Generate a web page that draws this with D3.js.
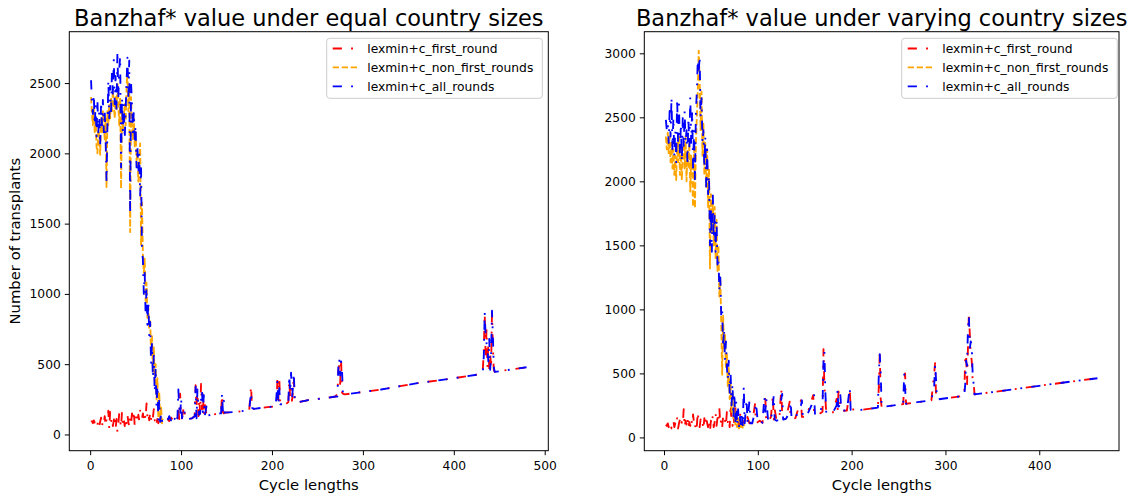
<!DOCTYPE html>
<html><head><meta charset="utf-8">
<script src="https://cdn.jsdelivr.net/npm/d3@7"></script>
<style>
body{margin:0;background:#fff;}
svg{display:block;font-family:"DejaVu Sans",sans-serif;}
</style></head><body>
<svg id="chart" width="1141" height="494"></svg>
<script>
// ---------- data: left panel (equal country sizes) ----------
const leftCycles = [1,2,3,4,5,6,7,8,9,10,11,12,13,14,15,16,17,18,19,20,21,22,23,24,25,26,27,28,29,30,
31,32,33,34,35,36,37,38,39,40,41,42,43,44,45,46,47,48,49,50,51,52,53,54,55,56,57,58,59,60,
61,62,63,64,65,66,67,68,69,70,71,72,73,74,75,76,77,78,79,80,
81,83,85,87,89,91,93,95,96,97,98,99,100,101,103,105,108,112,115,
116,117,118,119,120,121,122,123,124,125,126,128,130,133,138,143,144,145,146,147,148,
160,172,175,176,177,178,180,195,204,205,206,207,208,209,
215,218,219,220,221,222,223,224,225,226,240,260,270,272,273,274,275,276,277,278,280,
320,360,400,430,432,433,434,435,436,437,438,439,440,441,442,443,444,445,450,480];
const leftFirstRound = [90,95,80,100,85,95,110,70,100,60,90,120,55,100,80,130,60,110,100,170,
40,160,90,120,60,100,140,40,110,20,80,150,100,50,160,70,110,60,120,80,
140,90,50,120,80,150,100,170,60,110,130,90,140,100,170,120,110,150,100,140,
110,220,120,150,100,160,110,150,120,180,100,130,90,110,80,120,100,90,110,100,
105,90,110,95,120,100,130,110,115,180,110,290,130,115,200,110,110,115,130,
350,200,300,130,250,150,360,180,300,130,220,140,135,140,145,150,150,280,160,150,155,
160,170,175,260,345,180,182,195,200,205,400,250,410,215,
215,230,380,260,320,240,300,420,230,225,245,260,270,290,450,500,360,540,300,290,285,
320,365,400,430,470,600,860,550,750,480,650,460,580,470,860,620,460,445,450,478];
const leftNonFirstRounds = [2400,2280,2200,2320,2150,2250,2050,2000,2200,2100,
1990,2250,2150,2300,2200,2100,2250,1760,2300,2200,2350,2250,2400,2300,2450,2350,2250,2400,2300,2500,
2350,2200,2400,1750,2300,2150,2250,2350,2200,2450,2600,2300,2450,1440,2400,2200,2100,2250,2050,2150,
1950,2000,1800,1900,2070,1350,1650,1280,1150,1250,950,1080,830,900,750,820,560,700,450,620,
380,500,250,400,120,300,90,200,80,110];
const leftAllRounds = [2520,2350,2280,2420,2200,2350,2120,2380,2150,2300,
2050,2370,2200,2380,2150,2300,2100,1800,2200,2520,2250,2480,2300,2600,2400,2670,2350,2550,2300,2730,
2400,2600,2690,1900,2400,2150,2350,2100,2300,2500,2680,2400,2660,1560,2500,2350,2150,2300,2100,2200,
1900,2050,1850,2000,1700,1900,1300,1250,1000,1150,850,1050,780,950,700,800,500,650,400,560,
300,480,200,350,100,250,90,150,95,100,
105,120,95,130,100,140,110,150,115,320,200,130,260,115,180,110,110,115,130,
340,115,320,200,140,150,250,310,160,280,130,200,135,140,145,150,150,290,170,240,155,
160,170,175,240,300,190,182,195,200,280,380,210,330,215,
215,220,420,300,440,260,330,440,260,225,245,260,270,270,480,540,420,520,460,300,285,
320,365,400,430,440,560,870,700,650,600,520,680,460,560,880,700,480,445,450,478];

// ---------- data: right panel (varying country sizes) ----------
const rightCycles = [2,3,4,5,6,7,8,9,10,11,12,13,14,15,16,17,18,19,20,21,22,23,24,25,26,27,28,29,30,31,
32,33,34,35,36,37,38,39,40,41,42,43,44,45,46,47,48,49,50,51,52,53,54,55,56,57,58,59,60,61,
62,63,64,65,66,67,68,69,70,71,72,73,74,75,76,77,78,79,80,81,82,83,84,85,86,
88,89,91,92,94,97,98,100,102,105,107,108,109,111,114,116,117,118,120,123,125,126,127,130,
134,135,136,140,146,147,148,152,159,160,161,165,169,170,171,172,173,180,184,185,186,188,189,195,198,199,
210,220,228,229,230,231,232,245,255,256,257,258,270,285,288,289,290,291,310,320,
321,322,323,324,325,326,327,328,329,330,331,333,360,400,440,462];
const rightFirstRound = [100,90,110,80,100,120,70,100,130,80,110,90,150,70,110,140,90,120,100,220,
80,130,100,160,70,120,90,150,100,180,110,70,130,90,200,110,80,140,100,120,
60,150,90,170,110,80,140,45,130,100,170,80,120,190,90,150,110,230,100,140,
80,160,110,130,90,200,120,150,80,260,110,90,180,100,240,120,90,150,100,200,110,90,130,100,150,
100,160,110,150,110,260,110,120,130,115,250,300,120,125,160,330,140,220,130,150,385,170,140,145,
280,150,145,150,290,160,160,165,330,200,175,180,200,690,400,300,190,195,300,200,360,250,205,210,380,220,
215,225,233,400,675,300,237,250,260,420,500,263,275,290,500,580,320,296,315,325,
600,650,400,700,975,800,650,600,450,430,336,338,363,403,442,462];
const rightNonFirstRounds = [2350,2250,2380,2220,2350,2150,2300,2100,2250,2050,
2200,2010,2300,2150,2350,2050,2250,2010,2200,2300,2100,2350,2000,2250,2100,2300,1920,2200,2050,1800,
2250,1790,2300,2500,2700,3020,2800,2400,2700,2200,2450,2050,2300,1960,2250,1800,2100,1320,1900,1600,
1850,1500,1800,1400,1700,1300,1500,1100,1250,900,490,950,700,800,550,650,400,550,300,420,
200,350,150,250,100,180,80,150,70,120,80,110,70,100,90];
const rightAllRounds = [2480,2400,2450,2300,2550,2350,2660,2250,2500,2200,
2400,2150,2650,2300,2600,2200,2450,2150,2500,2250,2550,2300,2400,2150,2500,2250,2660,2300,2550,2100,
2400,2000,2550,2700,2950,2850,2980,2500,2650,2300,2400,2100,2350,1950,2250,1900,2050,1500,1800,1450,
1900,1550,1750,1450,1700,1350,1400,1150,1250,950,1000,700,850,600,750,550,450,600,350,500,
250,420,150,350,100,280,90,220,80,160,90,200,80,400,110,
300,120,280,110,110,200,270,120,130,115,320,200,310,125,130,250,330,140,130,140,300,340,140,145,
200,280,145,150,250,290,160,165,280,330,175,180,250,600,670,350,190,195,250,370,200,330,210,210,390,215,
215,225,233,500,650,500,237,250,260,500,380,263,275,290,400,570,450,296,315,325,
400,600,560,850,950,700,750,720,500,420,336,338,363,403,442,462];

const xTicksLeft = [0,100,200,300,400,500];
const yTicksLeft = [0,500,1000,1500,2000,2500];
const xTicksRight = [0,100,200,300,400];
const yTicksRight = [0,500,1000,1500,2000,2500,3000];
const seriesNames = ["lexmin+c_first_round","lexmin+c_non_first_rounds","lexmin+c_all_rounds"];
const seriesColors = ["#ff0000","#ffa500","#0000ff"];
const seriesDash = ["9.2,9.2,1.85,9.2","6.3,2.7","9.2,9.2,1.85,9.2"];

const svg = d3.select("#chart");
const fmt = d3.format("d");

function panel(opt){
  const {x0,x1,y0,y1,cycles,series,xTicks,yTicks,title,ylabel,legendRight,clipId} = opt;
  const xs = cycles;
  const allY = series.flatMap(s => s.filter(v => v != null));
  const xmin = d3.min(xs), xmax = d3.max(xs);
  const ymin = d3.min(allY), ymax = d3.max(allY);
  const xr = xmax - xmin, yr = ymax - ymin;
  const x = d3.scaleLinear().domain([xmin - 0.05*xr, xmax + 0.05*xr]).range([x0, x1]);
  const y = d3.scaleLinear().domain([ymin - 0.05*yr, ymax + 0.05*yr]).range([y1, y0]);
  const g = svg.append("g");
  g.append("clipPath").attr("id", clipId).append("rect")
    .attr("x", x0).attr("y", y0).attr("width", x1-x0).attr("height", y1-y0);
  const plot = g.append("g").attr("clip-path", `url(#${clipId})`);
  series.forEach((vals, si) => {
    const pts = xs.map((c,i) => ({c, v: vals[i]}));
    const line = d3.line().defined(d => d.v != null).x(d => x(d.c)).y(d => y(d.v));
    plot.append("path").attr("d", line(pts)).attr("fill","none")
      .attr("stroke", seriesColors[si]).attr("stroke-width", 1.85)
      .attr("stroke-dasharray", seriesDash[si]).attr("stroke-linejoin","round");
  });
  // axes
  const ax = g.append("g").attr("transform", `translate(0,${y1})`)
    .call(d3.axisBottom(x).tickValues(xTicks).tickFormat(fmt).tickSize(4.5).tickPadding(6).tickSizeOuter(0));
  const ay = g.append("g").attr("transform", `translate(${x0},0)`)
    .call(d3.axisLeft(y).tickValues(yTicks).tickFormat(fmt).tickSize(4.5).tickPadding(4).tickSizeOuter(0));
  [ax, ay].forEach(a => {
    a.select(".domain").remove();
    a.selectAll("text").attr("font-size","12.3px").attr("font-family","DejaVu Sans").attr("fill","#000");
    a.selectAll("line").attr("stroke","#000").attr("stroke-width",1);
  });
  g.append("rect").attr("x", x0).attr("y", y0).attr("width", x1-x0).attr("height", y1-y0)
    .attr("fill","none").attr("stroke","#000").attr("stroke-width",1);
  g.append("text").attr("x", (x0+x1)/2).attr("y", 25.5).attr("text-anchor","middle")
    .attr("font-size","22.5px").text(title);
  g.append("text").attr("x", (x0+x1)/2).attr("y", 490).attr("text-anchor","middle")
    .attr("font-size","14.8px").text("Cycle lengths");
  if (ylabel) {
    g.append("text").attr("transform", `translate(19.5,${(y0+y1)/2}) rotate(-90)`)
      .attr("text-anchor","middle").attr("font-size","14.8px").text(ylabel);
  }
  // legend
  const lw = 215.6, lh = 60, lx = legendRight - lw, ly = 38.3;
  const lg = g.append("g");
  lg.append("rect").attr("x", lx).attr("y", ly).attr("width", lw).attr("height", lh)
    .attr("rx", 3).attr("fill","#fff").attr("fill-opacity",0.8).attr("stroke","#cccccc").attr("stroke-width",1);
  seriesNames.forEach((n, i) => {
    const cy = 48.5 + i*18.9;
    lg.append("line").attr("x1", lx+6).attr("x2", lx+30.6).attr("y1", cy).attr("y2", cy)
      .attr("stroke", seriesColors[i]).attr("stroke-width",1.85).attr("stroke-dasharray", seriesDash[i]);
    lg.append("text").attr("x", lx+40.6).attr("y", cy + 4.4).attr("font-size","12.3px").text(n);
  });
}

panel({x0:69.3, x1:548.3, y0:31.7, y1:450.7, cycles:leftCycles,
  series:[leftFirstRound,leftNonFirstRounds,leftAllRounds],
  xTicks:xTicksLeft, yTicks:yTicksLeft, title:"Banzhaf* value under equal country sizes",
  ylabel:"Number of transplants", legendRight:542.3, clipId:"clipL"});
panel({x0:644.3, x1:1119, y0:31.7, y1:450.7, cycles:rightCycles,
  series:[rightFirstRound,rightNonFirstRounds,rightAllRounds],
  xTicks:xTicksRight, yTicks:yTicksRight, title:"Banzhaf* value under varying country sizes",
  ylabel:null, legendRight:1117.3, clipId:"clipR"});
</script>
</body></html>
